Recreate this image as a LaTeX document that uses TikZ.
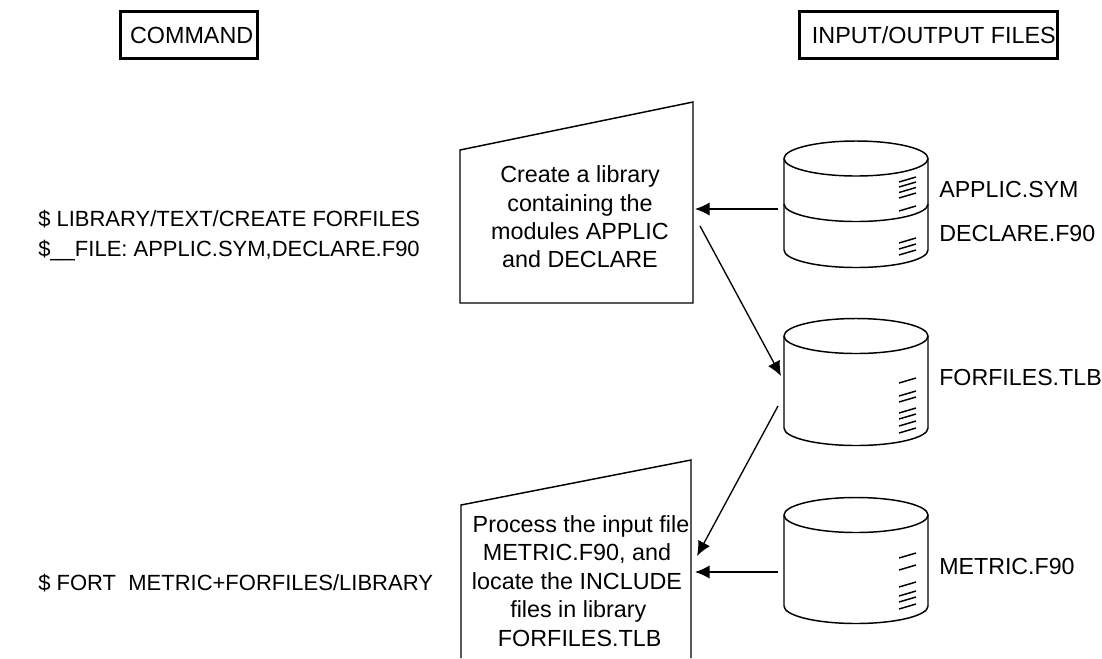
\documentclass[tikz,border=0pt]{standalone}
\usepackage{fontspec}
\setmainfont{Liberation Sans}
\usetikzlibrary{arrows.meta}
\tikzset{
  x=0.75pt,y=-0.75pt,
  txt/.style={font=\fontsize{17.4}{21}\selectfont,inner sep=0pt,anchor=base west},
  ltxt/.style={font=\fontsize{16.5}{21}\selectfont,inner sep=0pt,anchor=base west},
  ctxt/.style={font=\fontsize{17.5}{21.3}\selectfont,inner sep=0pt,align=center},
  hdr/.style={draw,line width=2.2pt,minimum height=35pt,inner sep=0pt,font=\fontsize{17.5}{21}\selectfont},
  shapeline/.style={line width=1.1pt},
  tick/.style={line width=1.1pt},
  conn/.style={line width=1.0pt},
  arr/.style={conn,-{Latex[length=11pt,width=10pt]}}
}
\newcommand{\cylbody}[3]{% x-left, y top-side, y bottom-side
  \draw[shapeline] (#1,#2) arc[start angle=180,end angle=-180,x radius=72,y radius=17.5];
  \draw[shapeline] (#1,#2) -- (#1,#3) arc[start angle=180,end angle=0,x radius=72,y radius=17.5] -- (#1+144,#2);
}
\newcommand{\ticks}[2]{\foreach \yy in {#2}{\draw[tick] (#1,\yy) -- +(17,-5);}}
\begin{document}
\begin{tikzpicture}
\useasboundingbox (0,0) rectangle (1102,658);
\node[hdr,minimum width=103pt] (cmd) at (189,35) {\hspace{4pt}\raisebox{-1pt}{COMMAND}};
\node[hdr,minimum width=193pt] (io) at (928.5,35) {\hspace{8pt}\raisebox{-1pt}{INPUT/OUTPUT FILES}};

\draw[shapeline] (460,150) -- (693,102) -- (693,303) -- (460,303) -- cycle;
\draw[shapeline] (461,658) -- (461,505) -- (691,460) -- (691,658);
\node[ctxt] (t1) at (580,217) {Create a library\\containing the\\modules APPLIC\\and DECLARE};
\node[ctxt] (t2) at (577,581) {\hspace{6pt}Process the input file\\METRIC.F90, and\\locate the INCLUDE\\\hspace{2pt}files in library\\\hspace{4pt}FORFILES.TLB};

\cylbody{784}{158.5}{250}
\draw[shapeline] (784,204) arc[start angle=180,end angle=0,x radius=72,y radius=17.5];
\cylbody{784}{336}{428}
\cylbody{784}{515}{606}
\ticks{899}{182,187,192.5,198,211,243,249,255}
\ticks{899}{383,396,402,413,419,426,433}
\ticks{899}{558,570,587,596,602,609}

\node[txt] (a) at (939,197) {APPLIC.SYM};
\node[txt] (b) at (939,241) {DECLARE.F90};
\node[txt] (c) at (939,385) {FORFILES.TLB};
\node[txt] (d) at (939,574) {METRIC.F90};
\node[ltxt] (l1) at (38,226) {\$ LIBRARY/TEXT/CREATE FORFILES};
\node[ltxt] (l2) at (38,256) {\$\_\_FILE: APPLIC.SYM,DECLARE.F90};
\node[ltxt] (l3) at (38,590) {\$ FORT\ \ METRIC+FORFILES/LIBRARY};

\coordinate (s1) at (778,209); \coordinate (e1) at (695,209);
\coordinate (s2) at (700,226); \coordinate (e2) at (781,376);
\coordinate (s3) at (778,406); \coordinate (e3) at (697,556);
\coordinate (s4) at (778,572); \coordinate (e4) at (695,572);
\draw[arr] (s1) -- (e1);
\draw[arr] (s2) -- (e2);
\draw[arr] (s3) -- (e3);
\draw[arr] (s4) -- (e4);
\end{tikzpicture}
\end{document}
